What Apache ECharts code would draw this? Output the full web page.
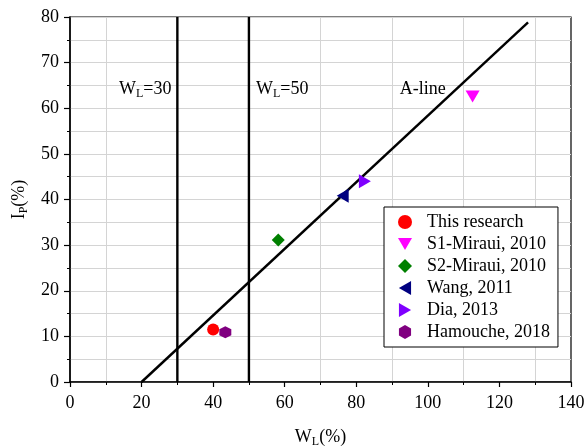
<!DOCTYPE html>
<html><head><meta charset="utf-8">
<script src="https://cdn.jsdelivr.net/npm/echarts@6/dist/echarts.min.js"></script>
<style>html,body{margin:0;padding:0;background:#fff}#c{width:585px;height:447px}</style>
</head><body><div id="c"></div>
<script>
const seriesNames = ['This research','S1-Miraui, 2010','S2-Miraui, 2010','Wang, 2011','Dia, 2013','Hamouche, 2018'];
const seriesPoints = [[40,11.5],[112.5,62.6],[58.2,31.1],[76.2,40.8],[82.4,44.0],[43.4,10.9]];
const seriesColors = ['#ff0000','#ff00ff','#008000','#000080','#7f00ff','#800080'];
const seriesSymbols = ['circle','path://M0,0 L10,0 L5,8.7 Z','diamond','path://M8.7,0 L8.7,10 L0,5 Z','path://M0,0 L0,10 L8.7,5 Z','path://M5,0 L9.33,2.5 L9.33,7.5 L5,10 L0.67,7.5 L0.67,2.5 Z'];
const seriesSizes = [12,[14,12],13,[12,14],[12,14],12];
const aLine = [[20,0],[128,78.84]];
const wl30 = [[30,0],[30,80]];
const wl50 = [[50,0],[50,80]];
const annotations = [{text:'{n|W}{s|L}{n|=30}', pos:[21,64.2]},{text:'{n|W}{s|L}{n|=50}', pos:[59.3,64.2]},{text:'{n|A-line}', pos:[98.6,64.2]}];

const font = 'Liberation Serif';
const rich = {n:{fontFamily:font,fontSize:18,color:'#000',textBorderWidth:0}, s:{fontFamily:font,fontSize:12,color:'#000',textBorderWidth:0,padding:[9,0,0,0]}};
const series = [];
seriesNames.forEach((n,i)=>{
  series.push({name:n,type:'scatter',data:[seriesPoints[i]],symbol:seriesSymbols[i],symbolSize:seriesSizes[i],itemStyle:{color:seriesColors[i],opacity:1},z:5});
});
[aLine,wl30,wl50].forEach(d=>series.push({type:'line',data:d,symbol:'none',lineStyle:{color:'#000',width:2.4},silent:true,z:3}));
series.push({type:'scatter',symbolSize:0,silent:true,itemStyle:{color:'#000',opacity:1},data:annotations.map(a=>({value:a.pos,label:{formatter:a.text}})),label:{show:true,position:'inside',color:'#000',opacity:1,textBorderWidth:0,rich:rich}});

const chart = echarts.init(document.getElementById('c'),null,{renderer:'canvas'});
chart.setOption({
  animation:false,
  grid:{left:70,right:14,top:17,bottom:65,show:true,borderColor:'#000',borderWidth:1.2,containLabel:false,outerBoundsMode:'none'},
  xAxis:{type:'value',min:0,max:140,interval:20,
    name:'{n|W}{s|L}{n|(%)}',nameLocation:'middle',nameGap:45,nameTextStyle:{rich:rich},
    axisLine:{show:true,onZero:false,lineStyle:{color:'#000',width:1.5}},
    axisTick:{show:true,length:5,lineStyle:{color:'#000',width:1.2}},
    minorTick:{show:true,splitNumber:2,length:3,lineStyle:{color:'#000',width:1}},
    splitLine:{show:false},
    minorSplitLine:{show:true,lineStyle:{color:'#d4d4d4',width:1}},
    axisLabel:{fontFamily:font,fontSize:18,color:'#000',margin:12}},
  yAxis:{type:'value',min:0,max:80,interval:10,
    name:'{n|I}{s|P}{n|(%)}',nameLocation:'middle',nameGap:35,nameRotate:90,nameTextStyle:{rich:rich},
    axisLine:{show:true,onZero:false,lineStyle:{color:'#000',width:1.5}},
    axisTick:{show:true,length:6,lineStyle:{color:'#000',width:1.2}},
    minorTick:{show:true,splitNumber:2,length:3,lineStyle:{color:'#000',width:1}},
    splitLine:{show:true,lineStyle:{color:'#d4d4d4',width:1}},
    minorSplitLine:{show:true,lineStyle:{color:'#d4d4d4',width:1}},
    axisLabel:{fontFamily:font,fontSize:18,color:'#000',margin:11}},
  legend:{data:seriesNames,orient:'vertical',left:384,top:207,backgroundColor:'#fff',borderColor:'#000',borderWidth:1,
    padding:[6,8,6,14],itemWidth:14,itemHeight:14,itemGap:4,
    textStyle:{fontFamily:font,fontSize:18,color:'#000',padding:[0,0,0,10]}},
  series:series
});
</script></body></html>
